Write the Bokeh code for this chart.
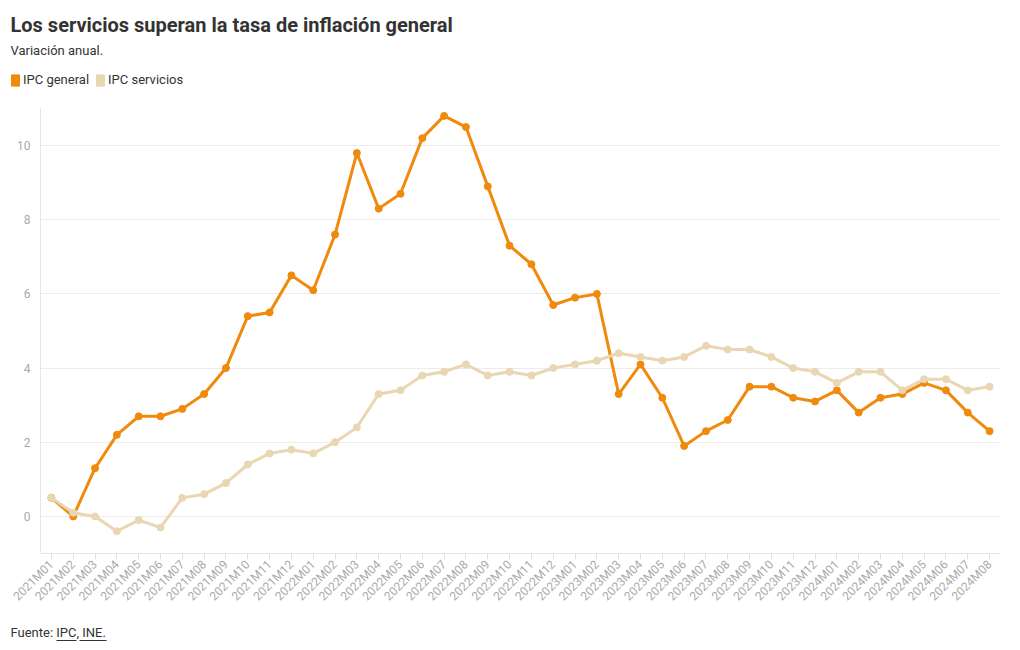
import math
from bokeh.plotting import figure
from bokeh.layouts import column
from bokeh.models import FactorRange, Range1d, Label, Legend, LegendItem, ColumnDataSource
from bokeh.embed import file_html
from bokeh.resources import INLINE

months = [f"{y}M{m:02d}" for y in (2021, 2022, 2023) for m in range(1, 13)] + [f"2024M{m:02d}" for m in range(1, 9)]

ipc_general = [0.5, 0.0, 1.3, 2.2, 2.7, 2.7, 2.9, 3.3, 4.0, 5.4, 5.5, 6.5,
               6.1, 7.6, 9.8, 8.3, 8.7, 10.2, 10.8, 10.5, 8.9, 7.3, 6.8, 5.7,
               5.9, 6.0, 3.3, 4.1, 3.2, 1.9, 2.3, 2.6, 3.5, 3.5, 3.2, 3.1,
               3.4, 2.8, 3.2, 3.3, 3.6, 3.4, 2.8, 2.3]

ipc_servicios = [0.5, 0.1, 0.0, -0.4, -0.1, -0.3, 0.5, 0.6, 0.9, 1.4, 1.7, 1.8,
                 1.7, 2.0, 2.4, 3.3, 3.4, 3.8, 3.9, 4.1, 3.8, 3.9, 3.8, 4.0,
                 4.1, 4.2, 4.4, 4.3, 4.2, 4.3, 4.6, 4.5, 4.5, 4.3, 4.0, 3.9,
                 3.6, 3.9, 3.9, 3.4, 3.7, 3.7, 3.4, 3.5]

y_ticks = [0, 2, 4, 6, 8, 10]
series_names = ["IPC general", "IPC servicios"]
colors = ["#f08a0c", "#e9d6b3"]
FONT = "Roboto"
TXT = "#333333"
W = 1012
LEFT = 40
RIGHT = 12
FRAME_W = W - LEFT - RIGHT


def blank(height):
    # frames of plots in a column are aligned with the chart's frame; shift the
    # canvas left so the header/footer frame starts at the page's left edge
    f = figure(width=W, height=height, x_range=Range1d(0, FRAME_W), y_range=Range1d(0, height),
               output_backend="svg", toolbar_location=None, min_border=0,
               x_axis_location=None, y_axis_location=None,
               styles={"transform": f"translateX(-{LEFT}px)"})
    f.grid.visible = False
    f.outline_line_color = None
    return f


# ---- header ----
head = blank(100)
head.add_layout(Label(x=10, y=76, x_units="screen", y_units="screen",
                      text="Los servicios superan la tasa de inflación general",
                      text_font=FONT, text_font_size="20px", text_font_style="bold",
                      text_color=TXT, text_baseline="middle"))
head.add_layout(Label(x=10, y=50, x_units="screen", y_units="screen",
                      text="Variación anual.", text_font=FONT, text_font_size="13px",
                      text_color=TXT, text_baseline="middle"))
lg1 = head.rect(x=[-100], y=[-100], width=1, height=1, color=colors[0])
lg2 = head.rect(x=[-100], y=[-100], width=1, height=1, color=colors[1])
legend = Legend(items=[LegendItem(label=series_names[0], renderers=[lg1]),
                       LegendItem(label=series_names[1], renderers=[lg2])],
                orientation="horizontal", location=(10, 13),
                label_text_font=FONT, label_text_font_size="13px", label_text_color=TXT,
                glyph_width=10, glyph_height=14, label_standoff=3, spacing=6,
                label_height=14, padding=0, margin=0, border_line_color=None,
                background_fill_alpha=0)
head.add_layout(legend, "center")

# ---- main chart ----
src = ColumnDataSource(dict(x=months, g=ipc_general, s=ipc_servicios))

p = figure(width=W, height=513, x_range=FactorRange(factors=months, range_padding=0),
           y_range=Range1d(-1, 11), output_backend="svg", toolbar_location=None,
           min_border_left=LEFT, min_border_right=RIGHT, min_border_bottom=60, min_border_top=8)
p.outline_line_color = None

p.line("x", "g", source=src, line_color=colors[0], line_width=3)
p.scatter("x", "g", source=src, size=7, color=colors[0])
p.line("x", "s", source=src, line_color=colors[1], line_width=3)
p.scatter("x", "s", source=src, size=7, color=colors[1])

p.xgrid.grid_line_color = None
p.ygrid.grid_line_color = "#ececec"
p.ygrid.ticker = y_ticks
p.yaxis.ticker = y_ticks

p.yaxis.axis_line_color = "#e6e6e6"
p.yaxis.major_tick_line_color = None
p.yaxis.minor_tick_line_color = None
p.yaxis.major_tick_out = 0
p.yaxis.minor_tick_out = 0
p.yaxis.major_label_text_color = "#aaaaaa"
p.yaxis.major_label_text_font = FONT
p.yaxis.major_label_text_font_size = "12px"
p.yaxis.major_label_standoff = 10

p.xaxis.axis_line_color = "#e6e6e6"
p.xaxis.major_tick_line_color = "#e0e0e0"
p.xaxis.major_tick_out = 6
p.xaxis.major_tick_in = 0
p.xaxis.major_label_orientation = math.pi / 4
p.xaxis.major_label_text_color = "#aaaaaa"
p.xaxis.major_label_text_font = FONT
p.xaxis.major_label_text_font_size = "12px"
p.xaxis.major_label_standoff = 3

# ---- footer ----
foot = blank(37)
foot.add_layout(Label(x=10, y=18, x_units="screen", y_units="screen",
                      text="Fuente: IPC, INE.", text_font=FONT, text_font_size="13px",
                      text_color=TXT, text_baseline="middle"))
foot.segment(x0=[56, 79], y0=[10, 10], x1=[76, 106], y1=[10, 10], line_color=TXT, line_width=1)

layout = column(head, p, foot, spacing=0)
open("out.html", "w").write(file_html(layout, INLINE))
